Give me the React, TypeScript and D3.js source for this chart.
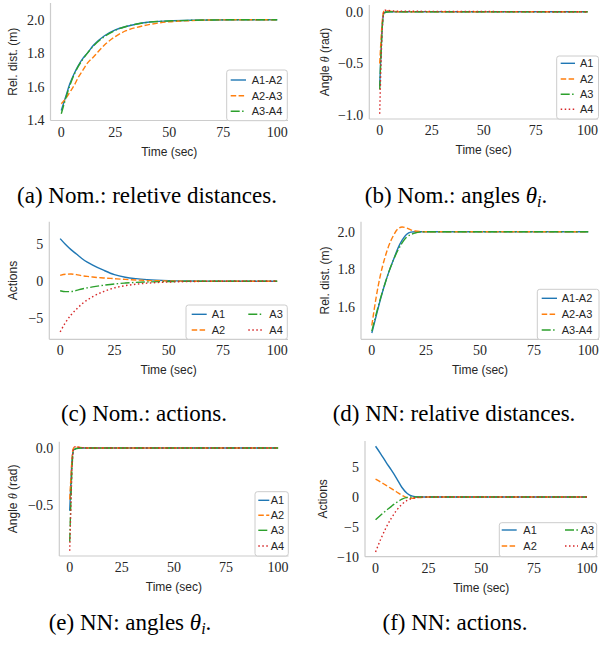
import React from 'react';
import * as d3 from 'd3';

// ---------- data ----------
const xTicks = [0, 25, 50, 75, 100];
const agentLabels = ['A1', 'A2', 'A3', 'A4'];
const pairLabels = ['A1-A2', 'A2-A3', 'A3-A4'];

// (a) nominal: relative distances
const tNomDist = [0, 2, 4, 6, 8, 10, 12, 15, 20, 25, 30, 35, 40, 50, 60, 70, 80, 90, 100];
const nomDistA1A2 = [1.46, 1.54, 1.62, 1.68, 1.73, 1.77, 1.80, 1.85, 1.905, 1.94, 1.96, 1.975, 1.985, 1.993, 1.997, 1.999, 2.0, 2.0, 2.0];
const nomDistA2A3 = [1.50, 1.53, 1.57, 1.61, 1.66, 1.70, 1.74, 1.78, 1.85, 1.90, 1.935, 1.955, 1.97, 1.988, 1.995, 1.999, 2.0, 2.0, 2.0];
const nomDistA3A4 = [1.44, 1.53, 1.61, 1.675, 1.725, 1.765, 1.80, 1.845, 1.90, 1.937, 1.96, 1.975, 1.985, 1.993, 1.997, 1.999, 2.0, 2.0, 2.0];

// (b) nominal: angles
const tAngle = [0, 0.5, 1, 1.5, 2, 2.5, 3, 5, 10, 100];
const nomAngA1 = [-0.72, -0.45, -0.22, -0.07, -0.015, -0.005, 0, 0, 0, 0];
const nomAngA2 = [-0.50, -0.32, -0.15, -0.04, 0.005, 0.01, 0.01, 0.005, 0, 0];
const nomAngA3 = [-0.75, -0.48, -0.24, -0.08, -0.02, -0.01, -0.005, 0, 0, 0];
const nomAngA4 = [-0.985, -0.6, -0.28, -0.08, 0.005, 0.015, 0.015, 0.01, 0.005, 0];

// (c) nominal: actions
const tNomAct = [0, 2.5, 5, 7.5, 10, 12.5, 15, 20, 25, 30, 35, 40, 50, 60, 70, 80, 90, 100];
const nomActA1 = [5.8, 5.0, 4.3, 3.7, 3.1, 2.6, 2.2, 1.5, 0.9, 0.55, 0.35, 0.22, 0.08, 0.03, 0.01, 0, 0, 0];
const nomActA2 = [0.8, 0.95, 0.98, 0.9, 0.75, 0.66, 0.57, 0.45, 0.35, 0.25, 0.17, 0.11, 0.04, 0.01, 0, 0, 0, 0];
const nomActA3 = [-1.3, -1.42, -1.4, -1.25, -1.05, -0.9, -0.77, -0.55, -0.37, -0.25, -0.16, -0.1, -0.04, -0.01, 0, 0, 0, 0];
const nomActA4 = [-6.9, -5.6, -4.6, -3.8, -3.1, -2.55, -2.1, -1.4, -0.9, -0.6, -0.4, -0.26, -0.11, -0.04, -0.01, 0, 0, 0];

// (d) NN: relative distances
const tNnDist = [0, 2, 4, 6, 8, 10, 12, 14, 16, 18, 20, 22, 25, 30, 40, 50, 60, 70, 80, 90, 100];
const nnDistA1A2 = [1.46, 1.55, 1.64, 1.72, 1.79, 1.85, 1.91, 1.955, 1.985, 1.998, 2.0, 2.0, 2.0, 2.0, 2.0, 2.0, 2.0, 2.0, 2.0, 2.0, 2.0];
const nnDistA2A3 = [1.50, 1.65, 1.77, 1.86, 1.93, 1.98, 2.015, 2.025, 2.02, 2.01, 2.004, 2.001, 2.0, 2.0, 2.0, 2.0, 2.0, 2.0, 2.0, 2.0, 2.0];
const nnDistA3A4 = [1.47, 1.56, 1.645, 1.72, 1.79, 1.85, 1.90, 1.94, 1.97, 1.985, 1.993, 1.998, 2.0, 2.0, 2.0, 2.0, 2.0, 2.0, 2.0, 2.0, 2.0];

// (e) NN: angles
const nnAngA1 = [-0.55, -0.33, -0.14, -0.04, -0.01, -0.01, -0.005, 0, 0, 0];
const nnAngA2 = [-0.45, -0.28, -0.12, -0.02, 0.005, 0.01, 0.01, 0.005, 0, 0];
const nnAngA3 = [-0.82, -0.5, -0.22, -0.06, -0.02, -0.01, -0.005, 0, 0, 0];
const nnAngA4 = [-0.90, -0.55, -0.24, -0.05, 0.005, 0.01, 0.01, 0.005, 0, 0];

// (f) NN: actions
const tNnAct = [0, 2.5, 5, 7.5, 10, 12.5, 15, 17.5, 20, 22.5, 25, 30, 40, 50, 60, 70, 80, 90, 100];
const nnActA1 = [8.5, 7.2, 5.8, 4.5, 3.1, 1.6, 0.6, 0.15, 0.02, 0, 0, 0, 0, 0, 0, 0, 0, 0, 0];
const nnActA2 = [3.0, 2.5, 1.95, 1.4, 0.85, 0.3, -0.12, -0.2, -0.1, -0.03, 0, 0, 0, 0, 0, 0, 0, 0, 0];
const nnActA3 = [-3.8, -3.0, -2.25, -1.55, -0.9, -0.35, -0.05, 0.02, 0.01, 0, 0, 0, 0, 0, 0, 0, 0, 0, 0];
const nnActA4 = [-9.2, -7.0, -5.1, -3.5, -2.2, -1.2, -0.55, -0.2, -0.06, -0.01, 0, 0, 0, 0, 0, 0, 0, 0, 0];

// ---------- styles ----------
const COLORS = ['#1f77b4', '#ff7f0e', '#2ca02c', '#d62728'];
const DASHES = ['none', '5.5,2.4', '9,2.4,1.5,2.4', '1.5,2.5'];
const SPINE = '#cccccc';
const TXT = '#262626';
const SERIF = '"Liberation Serif", "DejaVu Serif", serif';
const SANS = '"Liberation Sans", "DejaVu Sans", sans-serif';

type Series = { label: string; t: number[]; v: number[]; color: string; dash: string };
type Legend = {
  x0: number; x1: number; y0: number; y1: number;
  rowYs: number[]; cols: [number, number, number][]; nrows: number;
};
type PanelCfg = {
  box: [number, number, number, number];
  xDomain: [number, number];
  yDomain: [number, number];
  yTicks: number[];
  yFmt: (v: number) => string;
  series: Series[];
  ylabel: React.ReactNode;
  ylabelX: number;
  legend: Legend;
};

const minus = (s: string) => s.replace('-', '\u2212');
const fmt1 = (v: number) => minus(d3.format('.1f')(v));
const fmt0 = (v: number) => minus(d3.format('d')(v));

const mk = (labels: string[], ts: number[][], vs: number[][]): Series[] =>
  labels.map((l, i) => ({ label: l, t: ts[i], v: vs[i], color: COLORS[i], dash: DASHES[i] }));

const thetaLabel = (
  <>
    Angle <tspan fontFamily={SERIF} fontStyle="italic">θ</tspan> (rad)
  </>
);

const panels: PanelCfg[] = [
  {
    box: [50.5, 288, 3, 120.5], xDomain: [-5, 105], yDomain: [1.4, 2.1],
    yTicks: [1.4, 1.6, 1.8, 2.0], yFmt: fmt1,
    series: mk(pairLabels, [tNomDist, tNomDist, tNomDist], [nomDistA1A2, nomDistA2A3, nomDistA3A4]),
    ylabel: 'Rel. dist. (m)', ylabelX: 13,
    legend: { x0: 226.7, x1: 287.3, y0: 70, y1: 120.7, rowYs: [80, 95.7, 111.3], cols: [[230.7, 246, 251.7]], nrows: 3 },
  },
  {
    box: [369.3, 598, 5, 119], xDomain: [-5, 105], yDomain: [-1.035, 0.065],
    yTicks: [-1.0, -0.5, 0.0], yFmt: fmt1,
    series: mk(agentLabels, [tAngle, tAngle, tAngle, tAngle], [nomAngA1, nomAngA2, nomAngA3, nomAngA4]),
    ylabel: thetaLabel, ylabelX: 325,
    legend: { x0: 556.7, x1: 598.5, y0: 56, y1: 119, rowYs: [63.3, 79, 94.3, 109.3], cols: [[560.7, 575, 580]], nrows: 4 },
  },
  {
    box: [49.3, 288, 221.7, 339.3], xDomain: [-5, 105], yDomain: [-7.9, 8.1],
    yTicks: [-5, 0, 5], yFmt: fmt0,
    series: mk(agentLabels, [tNomAct, tNomAct, tNomAct, tNomAct], [nomActA1, nomActA2, nomActA3, nomActA4]),
    ylabel: 'Actions', ylabelX: 13,
    legend: { x0: 186, x1: 287.3, y0: 305, y1: 339.3, rowYs: [314.3, 330], cols: [[191.7, 206.7, 211.7], [248.3, 263.3, 269.3]], nrows: 2 },
  },
  {
    box: [361, 599, 221.7, 339.3], xDomain: [-5, 105], yDomain: [1.4265, 2.0535],
    yTicks: [1.6, 1.8, 2.0], yFmt: fmt1,
    series: mk(pairLabels, [tNnDist, tNnDist, tNnDist], [nnDistA1A2, nnDistA2A3, nnDistA3A4]),
    ylabel: 'Rel. dist. (m)', ylabelX: 325,
    legend: { x0: 537.3, x1: 599, y0: 289.3, y1: 339.5, rowYs: [298.3, 314.3, 330], cols: [[541.7, 557, 561.7]], nrows: 3 },
  },
  {
    box: [59.3, 288.5, 441.7, 556], xDomain: [-5, 105], yDomain: [-0.9455, 0.0555],
    yTicks: [-0.5, 0.0], yFmt: fmt1,
    series: mk(agentLabels, [tAngle, tAngle, tAngle, tAngle], [nnAngA1, nnAngA2, nnAngA3, nnAngA4]),
    ylabel: thetaLabel, ylabelX: 13,
    legend: { x0: 255, x1: 288.3, y0: 491.7, y1: 556, rowYs: [500.3, 515.3, 530.3, 546], cols: [[258.3, 269.3, 270.7]], nrows: 4 },
  },
  {
    box: [365, 597.5, 441, 556.7], xDomain: [-5, 105], yDomain: [-9.98, 9.38],
    yTicks: [-10, -5, 0, 5], yFmt: fmt0,
    series: mk(agentLabels, [tNnAct, tNnAct, tNnAct, tNnAct], [nnActA1, nnActA2, nnActA3, nnActA4]),
    ylabel: 'Actions', ylabelX: 323,
    legend: { x0: 499.3, x1: 596.7, y0: 522.7, y1: 556.7, rowYs: [530, 546], cols: [[501.7, 516.7, 523.3], [565, 578, 580.7]], nrows: 2 },
  },
];

const captions: { x: number; y: number; pre: string; theta: boolean }[] = [
  { x: 147, y: 203, pre: '(a) Nom.: reletive distances.', theta: false },
  { x: 456, y: 203, pre: '(b) Nom.: angles ', theta: true },
  { x: 144, y: 421, pre: '(c) Nom.: actions.', theta: false },
  { x: 454, y: 421, pre: '(d) NN: relative distances.', theta: false },
  { x: 130, y: 630, pre: '(e) NN: angles ', theta: true },
  { x: 455, y: 630, pre: '(f) NN: actions.', theta: false },
];

function Panel({ cfg }: { cfg: PanelCfg }) {
  const [l, r, t, b] = cfg.box;
  const x = d3.scaleLinear().domain(cfg.xDomain).range([l, r]);
  const y = d3.scaleLinear().domain(cfg.yDomain).range([b, t]);
  const line = d3
    .line<[number, number]>()
    .x((d) => x(d[0]))
    .y((d) => y(d[1]))
    .curve(d3.curveMonotoneX);
  const lg = cfg.legend;
  return (
    <g>
      <line x1={l} x2={l} y1={t} y2={b} stroke={SPINE} strokeWidth={1.2} />
      <line x1={l} x2={r} y1={b} y2={b} stroke={SPINE} strokeWidth={1.2} />
      {cfg.series.map((s, i) => (
        <path
          key={i}
          d={line(s.t.map((tt, j) => [tt, s.v[j]] as [number, number])) || ''}
          fill="none"
          stroke={s.color}
          strokeWidth={1.4}
          strokeDasharray={s.dash}
        />
      ))}
      {xTicks.map((v) => (
        <text key={'x' + v} x={x(v)} y={b + 16} textAnchor="middle" fontFamily={SERIF} fontSize={14} fill={TXT}>
          {v}
        </text>
      ))}
      {cfg.yTicks.map((v) => (
        <text key={'y' + v} x={l - 6} y={y(v)} dy="0.35em" textAnchor="end" fontFamily={SERIF} fontSize={14} fill={TXT}>
          {cfg.yFmt(v)}
        </text>
      ))}
      <text x={(l + r) / 2} y={b + 35} textAnchor="middle" fontFamily={SANS} fontSize={12} fill={TXT}>
        Time (sec)
      </text>
      <text
        transform={`translate(${cfg.ylabelX},${(t + b) / 2}) rotate(-90)`}
        dy="0.35em"
        textAnchor="middle"
        fontFamily={SANS}
        fontSize={12}
        fill={TXT}
      >
        {cfg.ylabel}
      </text>
      <rect x={lg.x0} y={lg.y0} width={lg.x1 - lg.x0} height={lg.y1 - lg.y0} rx={2.5} fill="#ffffff" fillOpacity={0.85} stroke={SPINE} strokeWidth={1} />
      {cfg.series.map((s, i) => {
        const col = Math.floor(i / lg.nrows);
        const row = i % lg.nrows;
        const [a, c, tx] = lg.cols[col];
        const yy = lg.rowYs[row];
        return (
          <g key={'lg' + i}>
            <line x1={a} x2={c} y1={yy} y2={yy} stroke={s.color} strokeWidth={1.4} strokeDasharray={s.dash} />
            <text x={tx} y={yy} dy="0.35em" fontFamily={SANS} fontSize={11} fill={TXT}>
              {s.label}
            </text>
          </g>
        );
      })}
    </g>
  );
}

export default function App() {
  return (
    <svg
      width={600}
      height={646}
      viewBox="0 0 600 646"
      style={{ position: 'absolute', left: 0, top: 0, background: '#ffffff' }}
    >
      <rect x={0} y={0} width={600} height={646} fill="#ffffff" />
      {panels.map((p, i) => (
        <Panel key={i} cfg={p} />
      ))}
      {captions.map((c, i) => (
        <text key={'c' + i} x={c.x} y={c.y} textAnchor="middle" fontFamily={SERIF} fontSize={23} fill="#000000">
          {c.pre}
          {c.theta ? (
            <>
              <tspan fontStyle="italic">θ</tspan>
              <tspan fontStyle="italic" fontSize={16} dy={4}>i</tspan>
              <tspan dy={-4}>.</tspan>
            </>
          ) : null}
        </text>
      ))}
    </svg>
  );
}
